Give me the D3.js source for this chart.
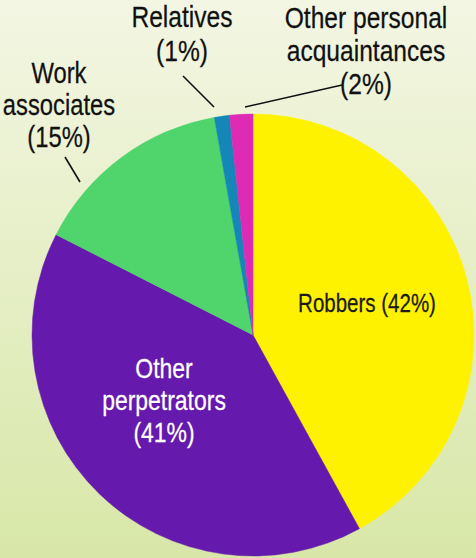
<!DOCTYPE html>
<html>
<head>
<meta charset="utf-8">
<script src="https://cdn.jsdelivr.net/npm/d3@7"></script>
<style>
  html, body { margin: 0; padding: 0; }
  body { width: 476px; height: 558px; overflow: hidden; }
  svg { display: block; }
</style>
</head>
<body>
<svg id="chart" width="476" height="558"></svg>
<script>
// ---- Data ----
const categories = ["Robbers", "Other perpetrators", "Work associates", "Relatives", "Other personal acquaintances"];
const shares = [42, 40.5, 14.7, 1.1, 1.7];          // slice sizes
const shownPercent = ["42%", "41%", "15%", "1%", "2%"]; // printed labels
const colors = ["#fff200", "#651aad", "#50d46c", "#1487b8", "#de2bb5"];

// ---- Layout (annotation placement) ----
const W = 476, H = 558;
const cx = 253, cy = 335, R = 221;
const labelLayout = [
  { lines: ["Robbers (42%)"], x: 367, y: 312, size: 25, lh: 32, fill: "#1a1a1a" },
  { lines: ["Other", "perpetrators", "(41%)"], x: 164, y: 378, size: 28, lh: 32, fill: "#ffffff" },
  { lines: ["Work", "associates", "(15%)"], x: 59, y: 83, size: 29, lh: 32, fill: "#111111",
    leader: [[65, 157], [80, 182]] },
  { lines: ["Relatives", "(1%)"], x: 182, y: 27, size: 30, lh: 34, fill: "#111111",
    leader: [[183, 76], [214, 107]] },
  { lines: ["Other personal", "acquaintances", "(2%)"], x: 366, y: 28, size: 30, lh: 33, fill: "#111111",
    leader: [[245, 107], [342, 85]] }
];

const svg = d3.select("#chart");
const defs = svg.append("defs");
const grad = defs.append("linearGradient").attr("id", "bg")
  .attr("x1", 0).attr("y1", 0).attr("x2", 0).attr("y2", 1);
grad.append("stop").attr("offset", "0%").attr("stop-color", "#f3f6e3");
grad.append("stop").attr("offset", "100%").attr("stop-color", "#d8e7a8");
svg.append("rect").attr("width", W).attr("height", H).attr("fill", "url(#bg)");

const data = categories.map((c, i) => ({ name: c, value: shares[i], pct: shownPercent[i], color: colors[i] }));
const pie = d3.pie().value(d => d.value).sort(null).startAngle(0).endAngle(2 * Math.PI);
const arc = d3.arc().innerRadius(0).outerRadius(R);

const g = svg.append("g").attr("transform", `translate(${cx},${cy})`);
g.selectAll("path").data(pie(data)).join("path")
  .attr("d", arc)
  .attr("fill", d => d.data.color)
  .attr("stroke", d => d.data.color)
  .attr("stroke-width", 0.5);

// leaders
labelLayout.forEach(l => {
  if (l.leader) {
    svg.append("line")
      .attr("x1", l.leader[0][0]).attr("y1", l.leader[0][1])
      .attr("x2", l.leader[1][0]).attr("y2", l.leader[1][1])
      .attr("stroke", "#111").attr("stroke-width", 1.6);
  }
});

// labels (narrow sans: Liberation Sans compressed horizontally)
const sx = 0.82;
labelLayout.forEach(l => {
  const t = svg.append("g").attr("transform", `translate(${l.x},${l.y}) scale(${sx},1)`)
    .append("text")
    .attr("text-anchor", "middle")
    .attr("font-family", "'Liberation Sans', Arial, sans-serif")
    .attr("font-size", l.size)
    .attr("fill", l.fill)
    .attr("stroke", l.fill)
    .attr("stroke-width", 0.25);
  l.lines.forEach((ln, i) => {
    t.append("tspan").attr("x", 0).attr("y", i * l.lh).text(ln);
  });
});
</script>
</body>
</html>
